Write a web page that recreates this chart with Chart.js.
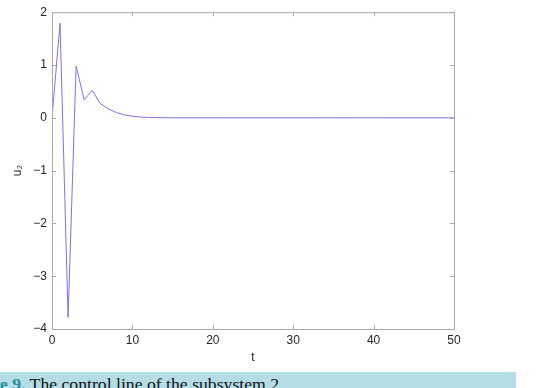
<!DOCTYPE html>
<html>
<head>
<meta charset="utf-8">
<script src="https://cdn.jsdelivr.net/npm/chart.js@4"></script>
<style>
  html, body { margin: 0; padding: 0; background: #fff; overflow: hidden; }
  #wrap { position: relative; width: 543px; height: 388px; }
  canvas { display: block; }
  #cap {
    position: absolute; left: 0; top: 372px; width: 516px; height: 16px;
    background: #b4dde6; overflow: hidden;
  }
  #cap span.txt {
    position: absolute; left: -42px; top: 3px; white-space: nowrap;
    font-family: "Liberation Serif", "Times New Roman", serif; font-size: 17.7px; line-height: 18px; color: #111;
  }
  #cap b { color: #2a8da0; }
</style>
</head>
<body>
<div id="wrap">
  <canvas id="c" width="543" height="388"></canvas>
  <div id="cap"><span class="txt"><b>Figure 9.</b> The control line of the subsystem 2.</span></div>
</div>
<script>
const t = []
for (let i = 0; i <= 50; i++) t.push(i)
const u2 = [0, 1.79, -3.78, 0.98, 0.34, 0.52, 0.27, 0.17, 0.10, 0.055,
  0.03, 0.015, 0.007, 0.003, 0.001, 0, 0, 0, 0, 0,
  0, 0, 0, 0, 0, 0, 0, 0, 0, 0,
  0, 0, 0, 0, 0, 0, 0, 0, 0, 0,
  0, 0, 0, 0, 0, 0, 0, 0, 0, 0, 0]
const xTicks = [0, 10, 20, 30, 40, 50]
const yTicks = [-4, -3, -2, -1, 0, 1, 2]

// matlab style box with inward ticks
const boxPlugin = {
  id: 'box',
  afterDatasetsDraw (chart) {
    const { ctx, chartArea: a, scales: { x, y } } = chart
    ctx.save()
    ctx.strokeStyle = '#a8a8a8'
    ctx.lineWidth = 1
    ctx.strokeRect(a.left + 0.5, a.top + 0.5, a.right - a.left, a.bottom - a.top)
    ctx.beginPath()
    xTicks.forEach(v => {
      const px = Math.round(x.getPixelForValue(v)) + 0.5
      ctx.moveTo(px, a.bottom); ctx.lineTo(px, a.bottom - 4)
      ctx.moveTo(px, a.top); ctx.lineTo(px, a.top + 4)
    })
    yTicks.forEach(v => {
      const py = Math.round(y.getPixelForValue(v)) + 0.5
      ctx.moveTo(a.left, py); ctx.lineTo(a.left + 4, py)
      ctx.moveTo(a.right, py); ctx.lineTo(a.right - 4, py)
    })
    ctx.stroke()
    ctx.restore()
  }
}

const font = { family: 'Liberation Sans, Arial, sans-serif', size: 12 }

new Chart(document.getElementById('c'), {
  type: 'line',
  data: {
    labels: t,
    datasets: [{
      data: t.map((v, i) => ({ x: v, y: u2[i] })),
      borderColor: '#7676e4',
      borderWidth: 1,
      pointRadius: 0,
      tension: 0,
      fill: false
    }]
  },
  options: {
    responsive: false,
    animation: false,
    layout: { padding: { left: 0, right: 89, top: 12, bottom: 14 } },
    plugins: { legend: { display: false }, tooltip: { enabled: false } },
    scales: {
      x: {
        type: 'linear', min: 0, max: 50,
        grid: { display: false, drawTicks: false },
        border: { display: false },
        ticks: { stepSize: 10, color: '#262626', font, padding: 4 },
        title: { display: true, text: 't', color: '#262626', font, padding: { top: 0, bottom: 9 } },
        afterFit: s => { s.height = 45 }
      },
      y: {
        min: -4, max: 2,
        grid: { display: false, drawTicks: false },
        border: { display: false },
        ticks: {
          stepSize: 1, color: '#262626', font, padding: 5,
          callback: v => v < 0 ? '\u2212' + Math.abs(v) : String(v)
        },
        title: { display: true, text: 'u\u2082', color: '#262626', font, padding: { top: 10, bottom: 0 } },
        afterFit: s => { s.width = 52 }
      }
    }
  },
  plugins: [boxPlugin]
})
</script>
</body>
</html>
